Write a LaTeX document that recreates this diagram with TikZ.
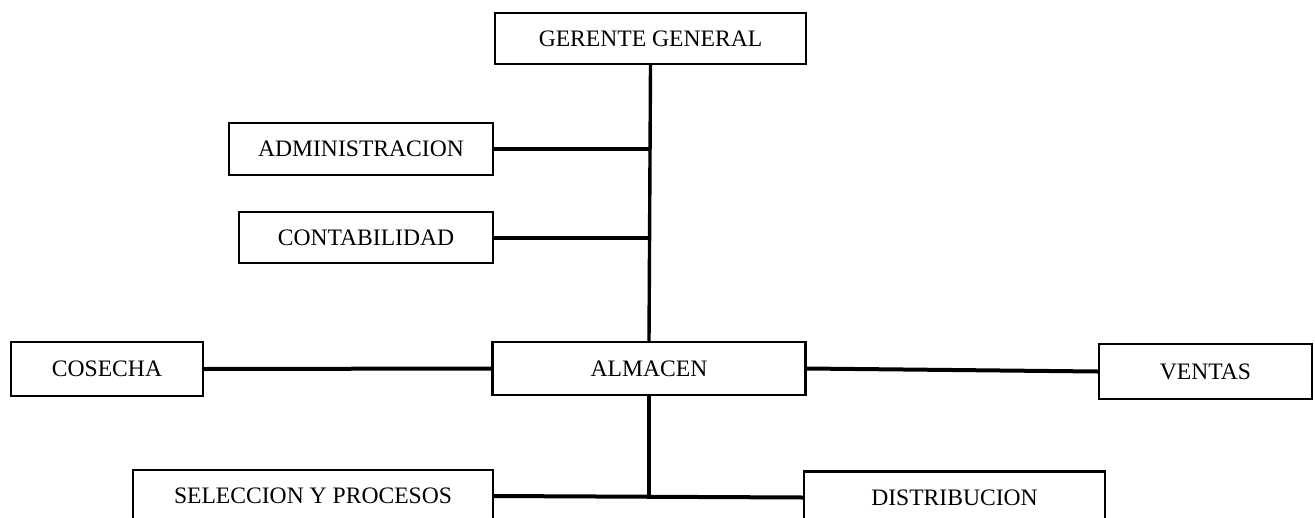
\documentclass[tikz,border=0pt]{standalone}
\usepackage{fontspec}
\setmainfont{Liberation Serif}
\tikzstyle{unit}=[draw, line width=2.4pt, inner sep=0pt, font=\fontsize{23.6}{27}\selectfont]
\tikzstyle{link}=[line width=3.4pt, black]
\tikzstyle{branch}=[line width=4pt, black]

\begin{document}
\begin{tikzpicture}[x=1pt, y=-1pt]
			\useasboundingbox (0,0) rectangle (1315,517);
			\clip (0,0) rectangle (1315,517);

			%%% Top
			\node[unit, minimum width=311pt, minimum height=51pt] (gerente) at (650.5, 38.5) {GERENTE GENERAL};
			\node[unit, minimum width=264pt, minimum height=52pt] (admin)   at (361.0, 149.0) {ADMINISTRACION};
			\node[unit, minimum width=254pt, minimum height=51pt] (conta)   at (366.0, 237.5) {CONTABILIDAD};

			%%% Middle row
			\node[unit, minimum width=192pt, minimum height=54pt] (cosecha) at (107.0, 369.0) {COSECHA};
			\node[unit, minimum width=313pt, minimum height=53pt] (almacen) at (649.0, 368.5) {ALMACEN};
			\node[unit, minimum width=213pt, minimum height=55pt] (ventas)  at (1205.5, 371.5) {VENTAS};

			%%% Bottom row
			\node[unit, minimum width=360pt, minimum height=52pt] (seleccion)    at (313.0, 496.0) {SELECCION Y PROCESOS};
			\node[unit, minimum width=301pt, minimum height=52pt] (distribucion) at (954.5, 497.5) {DISTRIBUCION};

			%%% Junctions
			\coordinate (jadmin) at (650.5, 149.0);
			\coordinate (jconta) at (650.0, 237.5);
			\coordinate (jbase)  at (649.0, 497.0);

			%%% Trunk
			\draw[link] (gerente.south) -- (almacen.north);
			\draw[branch] (admin.east) -- (jadmin);
			\draw[branch] (conta.east) -- (jconta);

			%%% Sides
			\draw[branch] (cosecha.east) -- (almacen.west);
			\draw[branch] (almacen.east) -- (ventas.west);

			%%% Bottom
			\draw[link] (almacen.south) -- (jbase);
			\draw[branch] (seleccion.east) -- (distribucion.west);
		\end{tikzpicture}
\end{document}
